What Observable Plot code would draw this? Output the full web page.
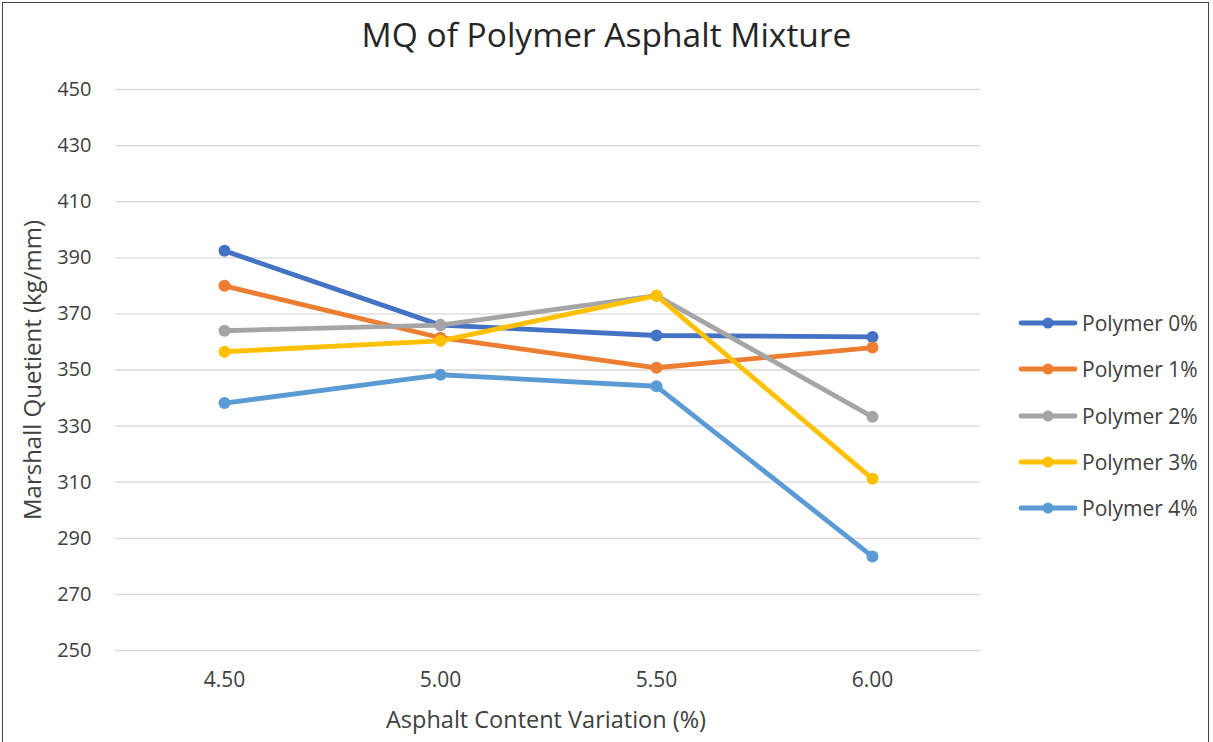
<!DOCTYPE html>
<html>
<head>
<meta charset="utf-8">
<script src="https://cdn.jsdelivr.net/npm/d3@7"></script>
<script src="https://cdn.jsdelivr.net/npm/@observablehq/plot@0.6"></script>
<style>
  html, body { margin: 0; padding: 0; background: #fff; }
  #wrap { position: relative; width: 1213px; height: 742px; overflow: hidden; font-family: "Open Sans", sans-serif; }
  #frame { position: absolute; left: 2px; top: 2px; width: 1207px; height: 760px; border: 1.5px solid #444; box-sizing: border-box; pointer-events: none; }
  #title { position: absolute; left: 0; width: 1213px; top: 12px; text-align: center; font-size: 33.5px; color: #262626; line-height: 44px; }
  #xtitle { position: absolute; left: 0; width: 1092px; top: 703px; text-align: center; font-size: 23.5px; color: #404040; line-height: 32px; }
  #ytitle { position: absolute; left: 32px; top: 370px; transform: translate(-50%, -50%) rotate(-90deg); white-space: nowrap; font-size: 24px; color: #404040; line-height: 32px; }
  #legend { position: absolute; left: 1018px; top: 300px; }
  .row { display: flex; align-items: center; height: 46.3px; font-size: 21px; color: #404040; }
  .row svg { margin-right: 4px; }
  #chart { position: absolute; left: 0; top: 0; }
</style>
</head>
<body>
<div id="wrap">
  <div id="chart"></div>
  <div id="title">MQ of Polymer Asphalt Mixture</div>
  <div id="xtitle">Asphalt Content Variation (%)</div>
  <div id="ytitle">Marshall Quetient (kg/mm)</div>
  <div id="legend"></div>
  <div id="frame"></div>
</div>
<script>
const categories = ["4.50", "5.00", "5.50", "6.00"];
const seriesNames = ["Polymer 0%", "Polymer 1%", "Polymer 2%", "Polymer 3%", "Polymer 4%"];
const polymer0 = [392.5, 366, 362.3, 361.8];
const polymer1 = [380, 361.5, 350.8, 358];
const polymer2 = [364, 366, 376.5, 333.3];
const polymer3 = [356.5, 360.4, 376.5, 311.2];
const polymer4 = [338.2, 348.3, 344.2, 283.5];
const seriesColors = ["#4472C4", "#ED7D31", "#A5A5A5", "#FFC000", "#5B9BD5"];
const yTicks = [250, 270, 290, 310, 330, 350, 370, 390, 410, 430, 450];

const allSeries = [polymer0, polymer1, polymer2, polymer3, polymer4];
const data = [];
allSeries.forEach((vals, si) => {
  vals.forEach((v, i) => data.push({series: seriesNames[si], x: categories[i], y: v}));
});

const chart = Plot.plot({
  width: 1213,
  height: 742,
  marginLeft: 115,
  marginRight: 233,
  marginTop: 89,
  marginBottom: 92,
  style: {fontFamily: "Open Sans, sans-serif", fontSize: "20px", color: "#404040", background: "transparent"},
  x: {type: "point", domain: categories, padding: 0.5, label: null},
  y: {domain: [250, 450], label: null},
  color: {domain: seriesNames, range: seriesColors},
  marks: [
    Plot.gridY(yTicks, {stroke: "#d9d9d9", strokeOpacity: 1, strokeWidth: 1.3}),
    Plot.axisY(yTicks, {tickSize: 0, tickPadding: 24, label: null, fontSize: 20}),
    Plot.axisX({tickSize: 0, tickPadding: 22, label: null, fontSize: 21}),
    Plot.line(data, {x: "x", y: "y", z: "series", stroke: "series", strokeWidth: 4.8, curve: "linear"}),
    Plot.dot(data, {x: "x", y: "y", fill: "series", r: 6})
  ]
});
document.getElementById("chart").appendChild(chart);

const legend = document.getElementById("legend");
seriesNames.forEach((name, i) => {
  const row = document.createElement("div");
  row.className = "row";
  row.innerHTML = `<svg width="60" height="14"><line x1="3" y1="7" x2="57" y2="7" stroke="${seriesColors[i]}" stroke-width="4.8" stroke-linecap="round"/><circle cx="30" cy="7" r="5.5" fill="${seriesColors[i]}"/></svg><span>${name}</span>`;
  legend.appendChild(row);
});
</script>
</body>
</html>
